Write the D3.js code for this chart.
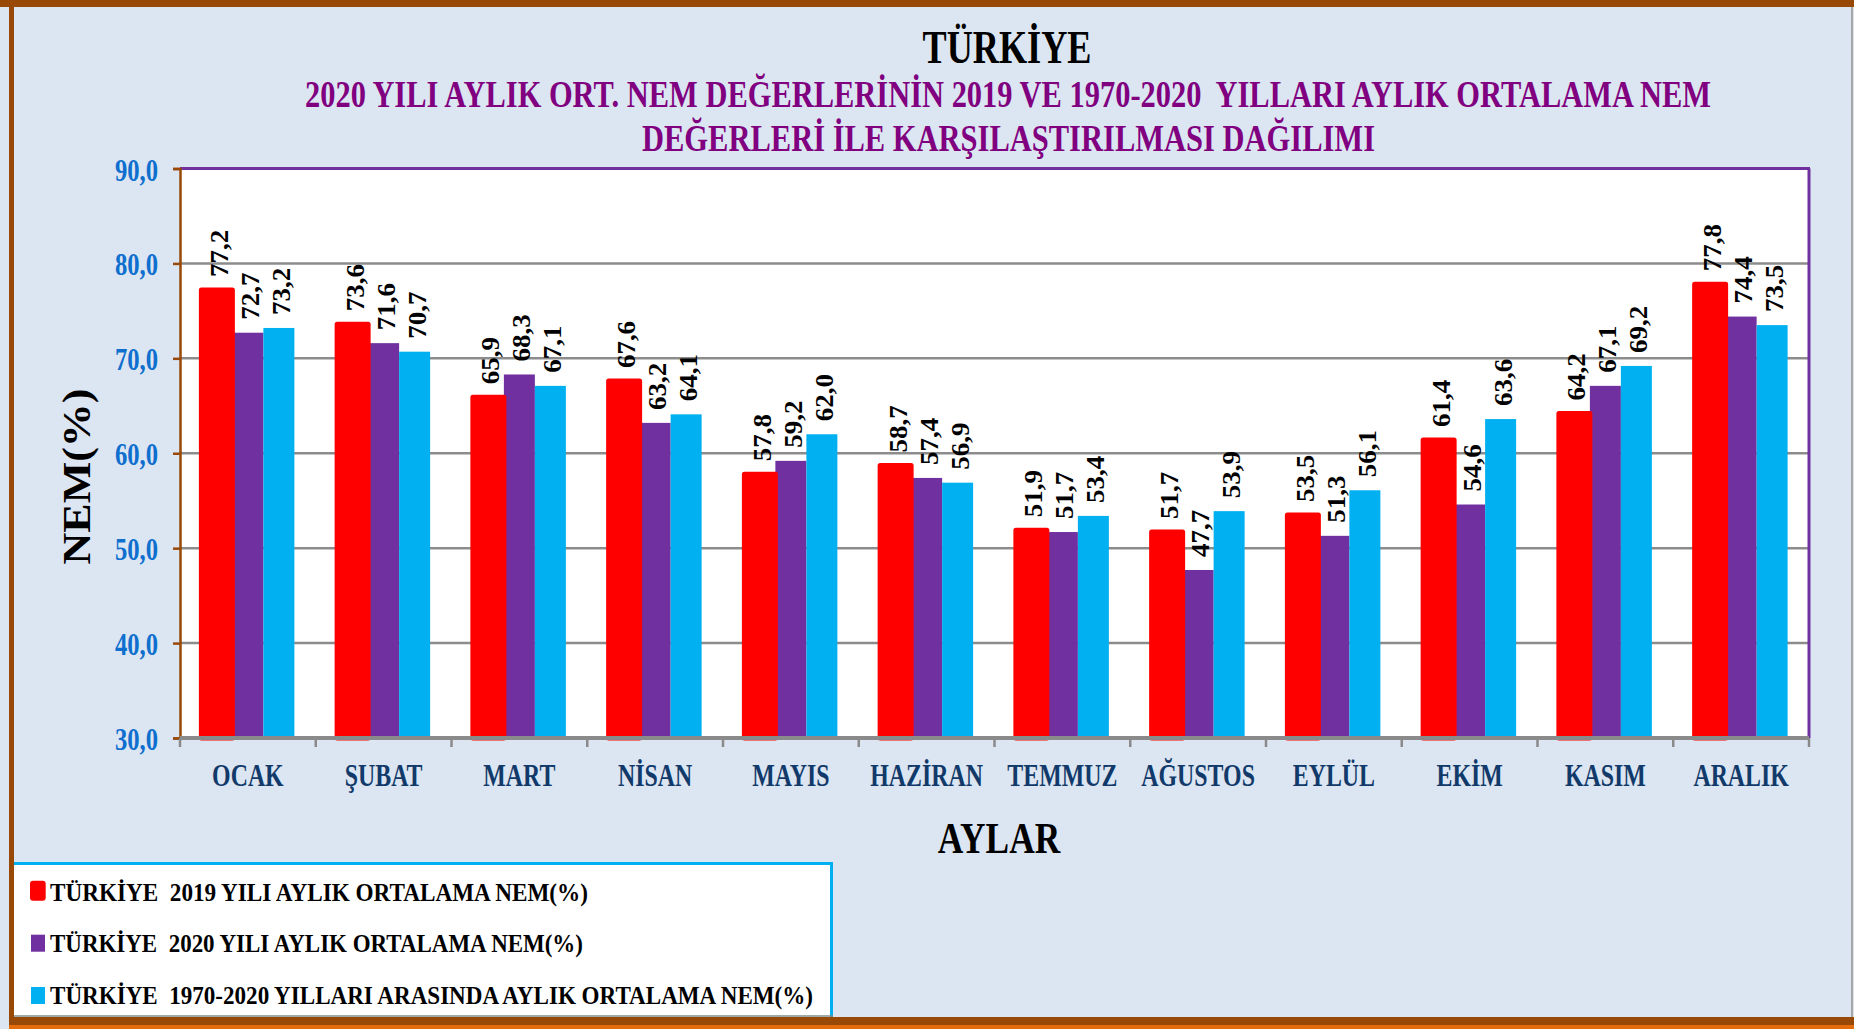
<!DOCTYPE html>
<html>
<head>
<meta charset="utf-8">
<script src="https://cdn.jsdelivr.net/npm/d3@7"></script>
<style>
  body { margin: 0; background: #dce6f2; }
  text { font-family: "Liberation Serif", "Times New Roman", serif; font-weight: bold; white-space: pre; }
</style>
</head>
<body>
<script>
var w = 1854;
var h = 1029;

var months = ['OCAK', 'ŞUBAT', 'MART', 'NİSAN', 'MAYIS', 'HAZİRAN', 'TEMMUZ', 'AĞUSTOS', 'EYLÜL', 'EKİM', 'KASIM', 'ARALIK'];
var nem2019 = [77.2, 73.6, 65.9, 67.6, 57.8, 58.7, 51.9, 51.7, 53.5, 61.4, 64.2, 77.8];
var nem2020 = [72.7, 71.6, 68.3, 63.2, 59.2, 57.4, 51.7, 47.7, 51.3, 54.6, 67.1, 74.4];
var nemOrt = [73.2, 70.7, 67.1, 64.1, 62.0, 56.9, 53.4, 53.9, 56.1, 63.6, 69.2, 73.5];
var yTicks = [30, 40, 50, 60, 70, 80, 90];

var seriesNames = ['TÜRKİYE  2019 YILI AYLIK ORTALAMA NEM(%)',
                   'TÜRKİYE  2020 YILI AYLIK ORTALAMA NEM(%)',
                   'TÜRKİYE  1970-2020 YILLARI ARASINDA AYLIK ORTALAMA NEM(%)'];
var seriesColors = ['#ff0000', '#7030a0', '#00b0f0'];

var series = [nem2019, nem2020, nemOrt];

var svg = d3.select('body')
            .append('svg')
            .attr('width', w)
            .attr('height', h);

// page background + frame
svg.append('rect').attr('width', w).attr('height', h).attr('fill', '#dce6f2');
svg.append('rect').attr('x', 0).attr('y', 0).attr('width', w).attr('height', 7).attr('fill', '#984807');
svg.append('rect').attr('x', 9).attr('y', 0).attr('width', 5).attr('height', 1025).attr('fill', '#984807');
svg.append('rect').attr('x', 9).attr('y', 1017).attr('width', w).attr('height', 8).attr('fill', '#984807');
svg.append('rect').attr('x', 9).attr('y', 1025).attr('width', w).attr('height', 4).attr('fill', '#e46c0a');
svg.append('rect').attr('x', 1851).attr('y', 7).attr('width', 2).attr('height', 1010).attr('fill', '#a6a6a6');

var pLeft = 180, pRight = 1809, pTop = 168.5, pBottom = 738;

var x0 = d3.scaleBand()
           .domain(months)
           .range([pLeft, pRight])
           .paddingInner(0.315)
           .paddingOuter(0.1575);

var x1 = d3.scaleBand()
           .domain([0, 1, 2])
           .range([0, x0.bandwidth()]);

var y = d3.scaleLinear()
          .domain([30, 90])
          .range([pBottom, pTop]);

// plot area
svg.append('rect')
   .attr('x', pLeft).attr('y', pTop)
   .attr('width', pRight - pLeft).attr('height', pBottom - pTop)
   .attr('fill', 'white');

svg.append('g')
   .selectAll('line')
   .data(yTicks.filter(function(d) { return d > 30 && d < 90; }))
   .enter()
   .append('line')
   .attr('x1', pLeft).attr('x2', pRight)
   .attr('y1', function(d) { return y(d); })
   .attr('y2', function(d) { return y(d); })
   .attr('stroke', '#8c8c8c')
   .attr('stroke-width', 2.5);

svg.append('line').attr('x1', pLeft).attr('x2', pRight + 1).attr('y1', pTop).attr('y2', pTop)
   .attr('stroke', '#7030a0').attr('stroke-width', 3);
svg.append('line').attr('x1', pRight).attr('x2', pRight).attr('y1', pTop).attr('y2', pBottom)
   .attr('stroke', '#7030a0').attr('stroke-width', 3);

// bars: purple and cyan first, red (thick outline) on top
var groups = svg.append('g')
                .selectAll('g')
                .data(months)
                .enter()
                .append('g')
                .attr('transform', function(d) { return 'translate(' + x0(d) + ',0)'; });

[1, 2, 0].forEach(function(s) {
    groups.append('rect')
          .attr('x', function(d) { return x1(s); })
          .attr('y', function(d, i) { return y(series[s][i]); })
          .attr('width', x1.bandwidth())
          .attr('height', function(d, i) { return pBottom - y(series[s][i]); })
          .attr('fill', seriesColors[s])
          .attr('stroke', s == 0 ? seriesColors[s] : 'none')
          .attr('stroke-width', s == 0 ? 5 : 0)
          .attr('stroke-linejoin', 'round');
});

var fmt = function(v) { return d3.format('.1f')(v).replace('.', ','); };

[0, 1, 2].forEach(function(s) {
    groups.append('text')
          .attr('transform', function(d, i) {
              return 'translate(' + (x1(s) + x1.bandwidth() / 2 + 11) + ',' + (y(series[s][i]) - 13) + ') rotate(-90) scale(1,0.93)';
          })
          .attr('font-size', 27)
          .attr('fill', 'black')
          .text(function(d, i) { return fmt(series[s][i]); });
});

// y axis (brown)
var yAxis = d3.axisLeft(y)
              .tickValues(yTicks)
              .tickSize(7)
              .tickFormat('');
var yg = svg.append('g').attr('transform', 'translate(' + pLeft + ',0)').call(yAxis);
yg.selectAll('path, line').attr('stroke', '#984807').attr('stroke-width', 2.5);

svg.append('g')
   .selectAll('text')
   .data(yTicks)
   .enter()
   .append('text')
   .attr('transform', function(d) { return 'translate(158,' + (y(d) + 12) + ') scale(0.77,1)'; })
   .attr('text-anchor', 'end')
   .attr('font-size', 32)
   .attr('fill', '#0f6fcf')
   .text(function(d) { return fmt(d); });

// x axis (gray)
var xg = svg.append('g').attr('transform', 'translate(0,' + pBottom + ')');
xg.append('line').attr('x1', pLeft).attr('x2', pRight).attr('y1', 0).attr('y2', 0)
  .attr('stroke', '#8a8a8a').attr('stroke-width', 4);
xg.selectAll('.tk')
  .data(d3.range(months.length + 1))
  .enter()
  .append('line')
  .attr('x1', function(i) { return pLeft + i * (pRight - pLeft) / months.length; })
  .attr('x2', function(i) { return pLeft + i * (pRight - pLeft) / months.length; })
  .attr('y1', 0).attr('y2', 9)
  .attr('stroke', '#8a8a8a').attr('stroke-width', 2.5);

svg.append('g')
   .selectAll('text')
   .data(months)
   .enter()
   .append('text')
   .attr('transform', function(d) { return 'translate(' + (x0(d) + x0.bandwidth() / 2) + ',786) scale(0.77,1)'; })
   .attr('text-anchor', 'middle')
   .attr('font-size', 31)
   .attr('fill', '#113a6b')
   .text(function(d) { return d; });

// titles
svg.append('text')
   .attr('transform', 'translate(1007,62.7) scale(0.77,1)')
   .attr('text-anchor', 'middle')
   .attr('font-size', 47)
   .attr('fill', 'black')
   .text('TÜRKİYE');

svg.append('text')
   .attr('x', 305).attr('y', 106.7)
   .attr('font-size', 37.5)
   .attr('textLength', 1406)
   .attr('lengthAdjust', 'spacingAndGlyphs')
   .attr('fill', '#800080')
   .text('2020 YILI AYLIK ORT. NEM DEĞERLERİNİN 2019 VE 1970-2020  YILLARI AYLIK ORTALAMA NEM');

svg.append('text')
   .attr('x', 642).attr('y', 151)
   .attr('font-size', 37.5)
   .attr('textLength', 733)
   .attr('lengthAdjust', 'spacingAndGlyphs')
   .attr('fill', '#800080')
   .text('DEĞERLERİ İLE KARŞILAŞTIRILMASI DAĞILIMI');

svg.append('text')
   .attr('transform', 'translate(90,476.5) rotate(-90) scale(1,0.9)')
   .attr('text-anchor', 'middle')
   .attr('font-size', 44)
   .attr('fill', 'black')
   .text('NEM(%)');

svg.append('text')
   .attr('transform', 'translate(999,853) scale(0.785,1)')
   .attr('text-anchor', 'middle')
   .attr('font-size', 45)
   .attr('fill', 'black')
   .text('AYLAR');

// legend
var legend = svg.append('g');
legend.append('rect').attr('x', 14).attr('y', 862).attr('width', 819).attr('height', 155).attr('fill', 'white');
legend.append('line').attr('x1', 14).attr('x2', 833).attr('y1', 863.5).attr('y2', 863.5).attr('stroke', '#00b0f0').attr('stroke-width', 3);
legend.append('line').attr('x1', 831.5).attr('x2', 831.5).attr('y1', 862).attr('y2', 1017).attr('stroke', '#00b0f0').attr('stroke-width', 3);
legend.append('line').attr('x1', 14).attr('x2', 833).attr('y1', 1016).attr('y2', 1016).attr('stroke', '#7f8c8c').attr('stroke-width', 1.5);

var legendY = [900.7, 951.7, 1004];
var legendW = [538, 533, 763];

legend.selectAll('.mk')
      .data(seriesNames)
      .enter()
      .append('rect')
      .attr('x', function(d, i) { return i == 0 ? 30 : 31; })
      .attr('y', function(d, i) { return legendY[i] - (i == 0 ? 20 : 17); })
      .attr('width', function(d, i) { return i == 0 ? 15.7 : 14; })
      .attr('height', function(d, i) { return i == 0 ? 20 : 17; })
      .attr('rx', function(d, i) { return i == 0 ? 3 : 0; })
      .attr('fill', function(d, i) { return seriesColors[i]; });

legend.selectAll('.lt')
      .data(seriesNames)
      .enter()
      .append('text')
      .attr('x', 50)
      .attr('y', function(d, i) { return legendY[i]; })
      .attr('font-size', 26)
      .attr('textLength', function(d, i) { return legendW[i]; })
      .attr('lengthAdjust', 'spacingAndGlyphs')
      .attr('fill', 'black')
      .text(function(d) { return d; });
</script>
</body>
</html>
